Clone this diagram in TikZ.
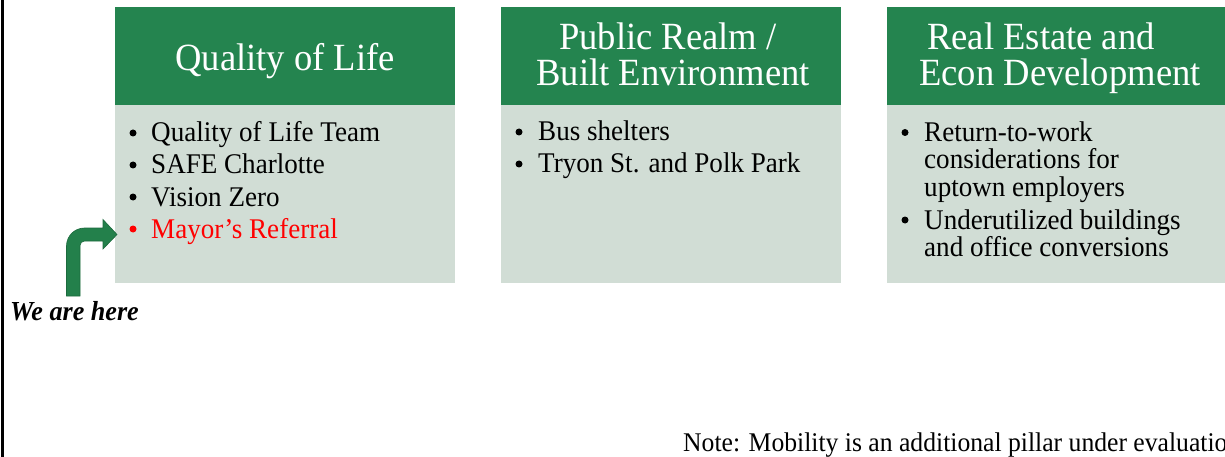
\documentclass[tikz,border=0pt]{standalone}
\usepackage{fontspec}
\setmainfont[FakeStretch=0.95]{Liberation Serif}
\definecolor{hdr}{HTML}{24844F}
\definecolor{bodyfill}{HTML}{D1DDD5}
\definecolor{arr}{HTML}{23804B}
\definecolor{arredge}{HTML}{1C6A3D}
\definecolor{redtext}{HTML}{FF0000}
\begin{document}
\begin{tikzpicture}[x=1pt,y=-1pt,
  hdrbox/.style={fill=hdr, draw=none, minimum width=340pt, minimum height=98pt, anchor=north west, inner sep=0pt, outer sep=0pt},
  bodybox/.style={fill=bodyfill, draw=none, minimum width=340pt, minimum height=178pt, anchor=north west, inner sep=0pt, outer sep=0pt},
  hdrtext/.style={text=white, font=\fontsize{38.5}{44}\selectfont, anchor=base, inner sep=0pt},
  itemtext/.style={font=\fontsize{28.5}{32}\selectfont, anchor=base west, inner sep=0pt},
  dotmark/.style={circle, fill=black, draw=none, minimum size=7pt, inner sep=0pt},
  notetext/.style={font=\fontsize{27}{30}\selectfont, anchor=base west, inner sep=0pt},
  heretext/.style={font=\fontsize{27.5}{30}\selectfont\bfseries\itshape, anchor=base west, inner sep=0pt}]
\useasboundingbox (0,0) rectangle (1225,457);

% left rule
\coordinate (lt) at (2.5,0);
\coordinate (lb) at (2.5,457);
\draw[line width=2.8pt] (lt) -- (lb);

% boxes
\node[hdrbox] (h1) at (115,7) {};
\node[bodybox] (b1) at (115,105) {};
\node[hdrbox] (h2) at (501,7) {};
\node[bodybox] (b2) at (501,105) {};
\node[hdrbox] (h3) at (887,7) {};
\node[bodybox] (b3) at (887,105) {};

% header titles
\node[hdrtext] (t1) at (285,71) {Quality of Life};
\node[hdrtext] (t2a) at (668,50) {Public Realm /};
\node[hdrtext] (t2b) at (673,86) {Built Environment};
\node[hdrtext] (t3a) at (1041,50) {Real Estate and};
\node[hdrtext] (t3b) at (1060,86) {Econ Development};

% box 1 items
\node[dotmark] (d11) at (133,133) {};
\node[itemtext] (i11) at (151,142) {Quality of Life Team};
\node[dotmark] (d12) at (133,165) {};
\node[itemtext] (i12) at (151,174) {SAFE Charlotte};
\node[dotmark] (d13) at (133,197) {};
\node[itemtext] (i13) at (151,206) {Vision Zero};
\node[dotmark, fill=redtext] (d14) at (133,229) {};
\node[itemtext, text=redtext] (i14) at (151,238) {Mayor’s Referral};

% box 2 items
\node[dotmark] (d21) at (519,132) {};
\node[itemtext] (i21) at (538,141) {Bus shelters};
\node[dotmark] (d22) at (519,164) {};
\node[itemtext] (i22) at (538,173) {Tryon St. and Polk Park};

% box 3 items
\node[dotmark] (d31) at (905,132.5) {};
\node[itemtext] (i31) at (924,141.5) {Return-to-work};
\node[itemtext] (i32) at (924,169) {considerations for};
\node[itemtext] (i33) at (924,196.5) {uptown employers};
\node[dotmark] (d34) at (905,220) {};
\node[itemtext] (i34) at (924,229) {Underutilized buildings};
\node[itemtext] (i35) at (924,256.5) {and office conversions};

% we are here + bent arrow
\node[heretext] (here) at (10,320) {We are here};
\fill[arr, draw=arredge, line width=0.6pt]
  (66.5,296) -- (66.5,246) .. controls (66.5,236) and (74.5,228) .. (84.5,228)
  -- (103,228) -- (103,219.5) -- (117,234.5) -- (103,249) -- (103,241)
  -- (84.5,241) .. controls (82,241) and (80,243) .. (80,245.5)
  -- (80,296) -- cycle;

% note (runs off the right edge, as in the reference)
\node[notetext] (note) at (683,451) {Note: Mobility is an additional pillar under evaluation};
\end{tikzpicture}
\end{document}
